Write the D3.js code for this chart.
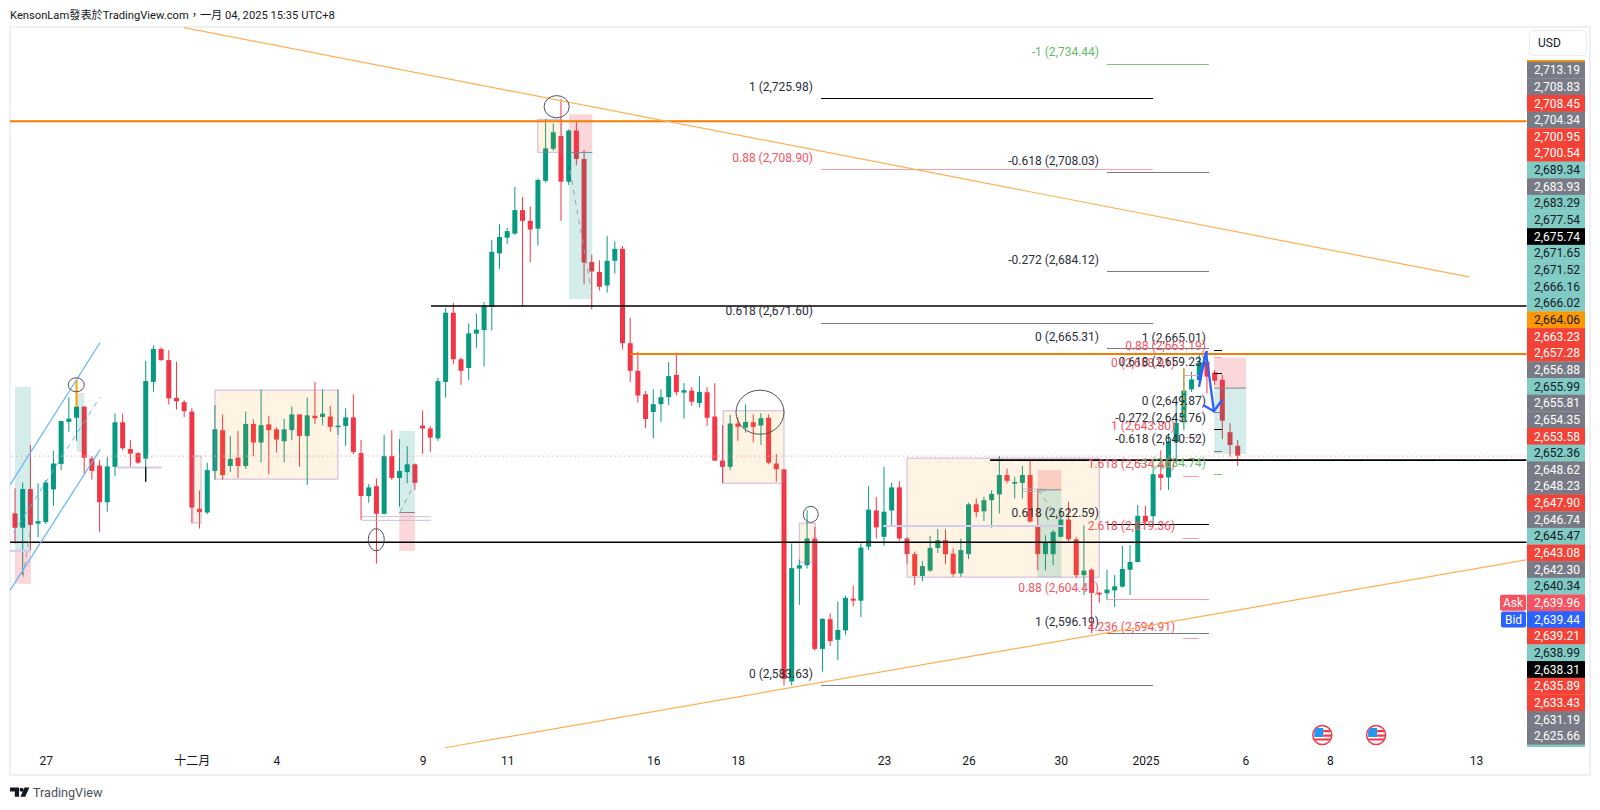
<!DOCTYPE html>
<html><head><meta charset="utf-8">
<script src="https://d3js.org/d3.v7.min.js"></script>
<style>html,body{margin:0;padding:0;background:#fff}svg{display:block}text{font-family:Roboto,"Noto Sans CJK TC",sans-serif}</style>
</head><body><svg id="c" width="1600" height="810"></svg>
<script>
// ---------- candle values, one per bar ----------
const opens=[2625.4,2621.9,2631.3,2622.9,2623.3,2631.2,2637.4,2647.6,2648.6,2651.3,2638.7,2637.0,2628.1,2636.7,2647.5,2641.0,2640.0,2638.7,2657.3,2665.3,2662.6,2653.4,2652.4,2650.1,2626.5,2625.6,2635.7,2645.6,2636.9,2638.9,2636.9,2647.1,2642.6,2647.0,2645.8,2642.9,2645.6,2649.4,2644.2,2649.1,2648.8,2648.9,2646.5,2646.6,2648.7,2640.0,2629.6,2632.0,2625.3,2639.3,2634.0,2635.4,2637.3,2646.7,2646.0,2643.6,2657.3,2674.1,2662.8,2660.7,2669.0,2669.9,2675.6,2688.5,2692.3,2693.3,2699.0,2696.4,2694.5,2706.1,2713.9,2717.0,2705.9,2718.3,2711.4,2686.4,2684.0,2680.7,2686.7,2689.6,2666.7,2660.0,2654.3,2650.0,2651.9,2653.6,2659.0,2654.7,2655.2,2652.2,2654.8,2648.9,2638.2,2636.7,2647.2,2646.2,2647.5,2646.7,2648.6,2637.5,2636.1,2584.6,2612.0,2612.8,2619.3,2592.5,2599.7,2594.7,2597.0,2604.7,2604.2,2617.3,2626.1,2619.7,2626.1,2631.7,2619.3,2615.5,2610.2,2611.5,2617.0,2618.9,2615.6,2610.8,2615.5,2627.6,2625.9,2628.6,2630.0,2634.7,2632.7,2632.8,2634.7,2622.5,2615.5,2615.5,2619.7,2623.9,2619.1,2610.4,2611.7,2606.1,2606.0,2606.7,2607.6,2611.7,2613.6,2624.8,2624.7,2634.9,2634.1,2642.6,2647.5,2655.5,2657.8,2662.2,2659.6,2657.8,2645.1,2641.8];
const highs=[2631.5,2632.9,2642.0,2632.7,2633.5,2640.6,2647.8,2653.5,2657.7,2651.4,2639.3,2638.3,2639.1,2649.6,2649.6,2643.2,2640.3,2662.4,2666.2,2665.7,2665.0,2662.2,2652.9,2650.9,2631.0,2637.7,2651.7,2649.4,2644.1,2645.4,2650.1,2648.2,2655.5,2649.1,2646.3,2648.3,2651.3,2649.4,2653.5,2657.3,2655.5,2651.5,2655.5,2650.9,2654.3,2643.2,2632.5,2633.9,2644.4,2645.6,2643.4,2641.7,2637.5,2650.4,2646.6,2658.3,2675.3,2676.5,2663.2,2671.5,2673.9,2676.7,2691.8,2695.6,2694.7,2704.6,2702.2,2699.9,2706.7,2721.1,2720.0,2725.9,2718.6,2720.5,2713.6,2688.2,2686.8,2692.7,2691.4,2690.3,2672.9,2664.6,2655.1,2655.5,2655.5,2662.1,2664.2,2657.0,2656.1,2658.7,2656.0,2657.0,2646.8,2649.3,2648.7,2651.8,2649.4,2649.7,2649.4,2639.8,2636.1,2618.1,2614.2,2626.2,2622.2,2600.0,2601.1,2604.0,2605.4,2607.8,2618.1,2632.0,2629.4,2636.7,2632.9,2633.2,2619.6,2616.1,2613.8,2619.9,2621.6,2621.5,2616.9,2619.3,2628.0,2629.0,2629.4,2631.0,2639.3,2636.3,2634.3,2636.9,2638.2,2631.4,2620.1,2621.3,2626.8,2628.2,2619.7,2622.5,2612.0,2606.4,2611.7,2610.4,2617.5,2617.7,2627.4,2627.2,2636.3,2640.7,2644.8,2652.1,2660.2,2659.8,2664.2,2664.9,2660.2,2659.0,2647.3,2643.2];
const lows=[2618.1,2610.4,2616.5,2619.6,2622.8,2627.2,2635.9,2645.2,2643.0,2635.1,2633.6,2620.9,2625.8,2634.5,2640.7,2636.5,2637.4,2633.1,2654.9,2662.4,2651.8,2650.6,2648.8,2623.0,2621.7,2625.2,2633.6,2633.5,2635.4,2634.0,2636.2,2639.3,2637.8,2634.9,2640.2,2637.8,2643.2,2636.7,2632.3,2647.1,2646.8,2645.2,2644.4,2641.8,2639.8,2623.8,2628.0,2613.2,2625.1,2633.5,2627.0,2632.7,2631.0,2639.9,2640.3,2643.0,2653.5,2661.6,2656.6,2657.8,2665.6,2661.1,2669.8,2684.7,2690.8,2693.0,2675.6,2686.3,2690.4,2705.7,2713.4,2696.4,2705.1,2709.9,2681.1,2674.9,2679.5,2679.0,2683.6,2665.2,2657.3,2652.3,2646.1,2643.6,2647.6,2651.7,2654.0,2648.4,2651.5,2651.1,2646.6,2638.1,2632.7,2635.9,2643.0,2645.0,2642.6,2642.0,2637.3,2633.1,2583.6,2583.6,2603.2,2612.0,2592.1,2587.0,2593.2,2589.8,2595.9,2602.8,2600.2,2616.5,2619.3,2617.5,2622.3,2618.7,2613.2,2608.0,2609.0,2611.2,2615.8,2613.1,2610.0,2610.0,2614.3,2624.4,2623.5,2621.9,2625.4,2632.7,2629.0,2629.0,2623.2,2611.6,2611.6,2612.8,2619.6,2618.5,2609.6,2605.6,2596.3,2603.7,2604.3,2602.7,2607.4,2605.6,2613.5,2622.5,2622.1,2631.0,2631.1,2637.9,2645.6,2654.9,2657.0,2654.5,2656.6,2643.4,2639.2,2636.9];
const closes=[2621.9,2631.3,2622.6,2623.5,2632.9,2637.5,2647.8,2648.4,2651.3,2638.9,2635.7,2628.1,2636.8,2647.5,2641.2,2639.9,2637.7,2657.5,2665.3,2662.6,2653.3,2652.6,2650.2,2626.8,2625.7,2635.9,2645.8,2634.7,2638.6,2636.9,2647.1,2642.6,2646.8,2645.6,2643.3,2645.8,2649.4,2644.2,2649.2,2648.5,2649.6,2646.4,2646.7,2648.7,2640.3,2629.6,2631.7,2625.3,2639.3,2634.0,2635.7,2637.3,2632.8,2646.0,2643.8,2657.5,2674.1,2662.8,2660.0,2669.1,2670.0,2675.8,2688.9,2692.5,2693.9,2699.0,2696.4,2694.3,2706.3,2714.0,2717.9,2705.9,2718.3,2711.4,2686.3,2684.1,2680.4,2686.7,2689.6,2666.7,2660.0,2654.0,2648.3,2651.9,2653.6,2658.7,2654.8,2655.3,2652.5,2654.9,2648.6,2638.2,2636.7,2647.2,2646.4,2647.6,2646.4,2648.5,2637.7,2636.1,2585.2,2612.1,2612.8,2619.3,2592.5,2599.8,2594.4,2597.1,2604.9,2604.2,2617.1,2626.3,2622.0,2625.8,2631.7,2619.3,2615.5,2610.2,2612.6,2617.0,2618.9,2615.5,2610.7,2616.5,2627.6,2625.7,2628.6,2630.1,2634.7,2633.3,2633.0,2634.7,2623.4,2615.5,2618.3,2620.9,2623.9,2619.1,2610.4,2611.5,2606.1,2605.9,2606.9,2607.7,2611.9,2613.6,2624.8,2623.4,2634.9,2634.0,2642.8,2647.4,2655.2,2657.9,2662.0,2658.6,2657.6,2647.9,2642.0,2639.4];
// ---------- axis labels ----------
const timeTickBars=[4,23,34,53,64,83,94,113,124,136,147,160,171,190];
const timeTickLabels=["27","十二月","4","9","11","16","18","23","26","30","2025","6","8","13"];
const priceLabels=["2,713.19","2,708.83","2,708.45","2,704.34","2,700.95","2,700.54","2,689.34","2,683.93","2,683.29","2,677.54","2,675.74","2,671.65","2,671.52","2,666.16","2,666.02","2,664.06","2,663.23","2,657.28","2,656.88","2,655.99","2,655.81","2,654.35","2,653.58","2,652.36","2,648.62","2,648.23","2,647.90","2,646.74","2,645.47","2,643.08","2,642.30","2,640.34","2,639.96","2,639.44","2,639.21","2,638.99","2,638.31","2,635.89","2,633.43","2,631.19","2,625.66"];
const priceLabelKinds=["g","g","r","g","r","r","t","g","t","t","k","t","t","t","t","o","r","r","g","t","g","g","r","t","g","g","r","g","t","r","g","t","a","b","r","t","k","r","r","g","g"];
// ---------- fibonacci levels: [group, label, price, tone] ----------
const fibLevels=[
["A","1 (2,725.98)",2725.98,"black"],["A","0.88 (2,708.90)",2708.90,"red"],["A","0.618 (2,671.60)",2671.60,"grey"],["A","0 (2,583.63)",2583.63,"grey"],
["B","-1 (2,734.44)",2734.44,"green"],["B","-0.618 (2,708.03)",2708.03,"grey"],["B","-0.272 (2,684.12)",2684.12,"grey"],["B","0 (2,665.31)",2665.31,"grey"],["B","0.618 (2,622.59)",2622.59,"black"],["B","0.88 (2,604.41)",2604.41,"red"],["B","1 (2,596.19)",2596.19,"grey"],
["C","0 (2,658.91)",2658.91,"red"],["C","1 (2,643.80)",2643.80,"red"],["C","1.618 (2,634.46)",2634.46,"red"],["C","2.618 (2,619.36)",2619.36,"red"],["C","4.236 (2,594.91)",2594.91,"red"],
["D","1 (2,665.01)",2665.01,"black"],["D","0.88 (2,663.19)",2663.19,"red"],["D","0.618 (2,659.23)",2659.23,"black"],["D","0 (2,649.87)",2649.87,"grey"],["D","-0.272 (2,645.76)",2645.76,"black"],["D","-0.618 (2,640.52)",2640.52,"grey"],["D","-1 (2,634.74)",2634.74,"green"]];
const fibSpans={A:[104.8,148],B:[142,155.3],C:[151.9,154],D:[155.9,157]};
// ---------- shaded zones: [bar0, bar1, priceTop, priceBottom, kind] ----------
const zones=[
[26,42,2655.3,2633.7,"y"],[23.15,24.2,2639.3,2623.1,"y"],[67.97,71.1,2721,2713,"y"],[92.1,100,2650.3,2632.7,"y"],[102,104.1,2623,2613.5,"y"],[116,141,2638.8,2609.9,"y"],
[0,2.08,2656.1,2616.3,"t"],[0,2.08,2616.3,2608.3,"r"],[8.02,9.01,2654.1,2640.3,"t"],[8.02,9.01,2654.6,2654.1,"r"],[49.97,52,2645.4,2625.6,"t"],[49.97,52,2625.6,2616.3,"r"],
[72.04,75.07,2722.3,2713,"r"],[72.04,75.07,2713,2677.4,"t"],[133,136.06,2635.9,2631.1,"r"],[133,136.06,2631.1,2609.9,"t"],[155.95,160.1,2663.2,2655.8,"r"],[155.95,160.1,2655.8,2639.8,"t"]];
// ---------- ellipses: [bar0, bar1, priceTop, priceBottom] ----------
const ellipses=[[6.93,9.01,2658.3,2654.9],[45.94,48.02,2621.7,2616.3],[68.8,72.07,2726.8,2721.4],[93.76,100,2655.3,2644.6],[102.5,104.45,2627.1,2623.2]];
// ---------- horizontal levels: [bar0, bar1, price, kind] ----------
const levels=[
[-1,197,2720.6,"orange"],[80,197,2664.06,"orange"],[54.1,197,2675.74,"black"],[-1,197,2618.4,"black"],[126.8,197,2638.31,"black"],[-1,197,2639.3,"dot"],
[13.2,19.1,2636.5,"purple"],[-0.65,2.08,2616.3,"purple"],[45.1,54.1,2624.6,"pale"],[45.1,54.1,2623.7,"pale"],[112.9,136.5,2622.3,"purple"],[131,134,2631.3,"pale"],[131,134,2630.7,"pale"],[49.97,52,2625.6,"slate"],[72.04,75.07,2713,"slate"],[133,136.06,2631.1,"slate"],[155.95,160.1,2655.8,"slate"]];
// ---------- trend lines: [[bar,price],...,kind] ----------
const trends=[
{k:"orange",p:[[21.98,2743.3],[189.07,2682.8]]},{k:"orange",p:[[55.9,2568.5],[196.5,2614.1]]},
{k:"blue",p:[[-0.65,2632.3],[11.05,2666.8]]},{k:"blue",p:[[-0.65,2606.7],[11.05,2640.8]]},{k:"bluedash",p:[[-0.22,2620.6],[11.05,2653.6]]},
{k:"greydash",p:[[1.04,2610],[2.08,2622.1]]},{k:"greydash",p:[[50.06,2625.7],[52,2632.8]]},{k:"greydash",p:[[72.17,2708.7],[75,2678.9]]},{k:"greydash",p:[[133.03,2631.1],[135.9,2623.8]]},
{k:"wedge",p:[[153.97,2656.1],[154.87,2664.6],[155.91,2650.2]]},{k:"wedge",p:[[153.9,2657.8],[155,2664.8]]},{k:"wedge",p:[[154.49,2651.7],[155.91,2650.2],[156.96,2652.9]]},
{k:"wickOrange",p:[[8,2657.7],[8,2651.3]]},{k:"wickBlack",p:[[17,2636.7],[17,2633.1]]},{k:"orangedash",p:[[152,2660.7],[152,2647.6]]}];
const eventBars=[170,177];

const svg=d3.select("#c");
const x=d3.scaleLinear().domain([0,1]).range([15,22.69]);
const y=d3.scaleLinear().domain([2750,2583.63]).range([0,685.44]);
const up="#089981",down="#f23645";

svg.append("defs").append("clipPath").attr("id","plot").append("rect").attr("x",10).attr("y",27).attr("width",1516.5).attr("height",747);
const defs=svg.select("defs");
eventBars.forEach((b,i)=>defs.append("clipPath").attr("id","ev"+i).append("circle").attr("cx",x(b)).attr("cy",735).attr("r",9));

svg.append("rect").attr("x",10).attr("y",27).attr("width",1580).attr("height",748).attr("fill","#fff").attr("stroke","#eef0f6").attr("stroke-width",2);
svg.append("text").attr("x",10).attr("y",18.5).attr("font-size",11.2).attr("fill","#131722").text("KensonLam發表於TradingView.com，一月 04, 2025 15:35 UTC+8");

const plot=svg.append("g").attr("clip-path","url(#plot)");
const bars=opens.map((o,i)=>({i,o,h:highs[i],l:lows[i],c:closes[i]}));
const gc=plot.append("g");
gc.selectAll("line").data(bars).join("line").attr("x1",d=>x(d.i)).attr("x2",d=>x(d.i)).attr("y1",d=>y(d.h)).attr("y2",d=>y(d.l)).attr("stroke",d=>d.c>=d.o?up:down).attr("stroke-width",1);
gc.selectAll("rect").data(bars).join("rect").attr("x",d=>x(d.i)-2.5).attr("width",5)
 .attr("y",d=>y(Math.max(d.o,d.c))).attr("height",d=>Math.max(1.6,Math.abs(y(d.o)-y(d.c)))).attr("fill",d=>d.c>=d.o?up:down);

const zoneFill={y:"rgba(255,152,0,0.11)",t:"rgba(0,150,136,0.17)",r:"rgba(242,54,69,0.2)"};
plot.append("g").selectAll("rect").data(zones).join("rect")
 .attr("x",d=>x(d[0])).attr("width",d=>x(d[1])-x(d[0])).attr("y",d=>y(d[2])).attr("height",d=>y(d[3])-y(d[2]))
 .attr("fill",d=>zoneFill[d[4]]).attr("stroke",d=>d[4]==="y"?"rgba(149,117,205,0.42)":"none").attr("stroke-width",1.2);

const lvlStyle={orange:["#f57c00",2,null],black:["#000",1.6,null],dot:["#f7a6ab",1,"1.5 3"],purple:["#d3cbec",2,null],pale:["#b9b3cc",0.8,null],slate:["#7c8794",1,null]};
plot.append("g").selectAll("line").data(levels).join("line")
 .attr("x1",d=>x(d[0])).attr("x2",d=>x(d[1])).attr("y1",d=>y(d[2])).attr("y2",d=>y(d[2]))
 .attr("stroke",d=>lvlStyle[d[3]][0]).attr("stroke-width",d=>lvlStyle[d[3]][1]).attr("stroke-dasharray",d=>lvlStyle[d[3]][2]);

const fibLine={black:"#000",red:"#f7a0a6",grey:"#787b86",green:"#81c784"};
const fibText={black:"#2a2e39",red:"#f7525f",grey:"#2a2e39",green:"#66bb6a"};
const gf=plot.append("g");
gf.selectAll("line").data(fibLevels).join("line").attr("x1",d=>x(fibSpans[d[0]][0])).attr("x2",d=>x(fibSpans[d[0]][1])).attr("y1",d=>y(d[2])).attr("y2",d=>y(d[2]))
 .attr("stroke",d=>fibLine[d[3]]).attr("stroke-width",1).attr("shape-rendering","crispEdges");

const trStyle={orange:["#ffb056",1.2,null],blue:["#64b5f6",1.2,null],bluedash:["#64b5f6",1,"5 5"],greydash:["#9aa0a8",1,"5 5"],wedge:["#2962ff",2.3,null],wickOrange:["#f5a300",2,null],wickBlack:["#000",1.2,null],orangedash:["#ff9800",1.5,"4 3"]};
const ln=d3.line().x(d=>x(d[0])).y(d=>y(d[1]));
plot.append("g").selectAll("path").data(trends).join("path").attr("d",d=>ln(d.p)).attr("fill","none")
 .attr("stroke",d=>trStyle[d.k][0]).attr("stroke-width",d=>trStyle[d.k][1]).attr("stroke-dasharray",d=>trStyle[d.k][2]);

plot.append("g").selectAll("ellipse").data(ellipses).join("ellipse")
 .attr("cx",d=>(x(d[0])+x(d[1]))/2).attr("cy",d=>(y(d[2])+y(d[3]))/2).attr("rx",d=>(x(d[1])-x(d[0]))/2).attr("ry",d=>(y(d[3])-y(d[2]))/2)
 .attr("fill","none").attr("stroke","#4e515b").attr("stroke-width",1);

gf.selectAll("text").data(fibLevels).join("text").attr("x",d=>x(fibSpans[d[0]][0])-8).attr("y",d=>y(d[2])-12).attr("dy","0.35em")
 .attr("text-anchor","end").attr("font-size",12).attr("fill",d=>fibText[d[3]]).text(d=>d[1]);

// event icons
eventBars.forEach((b,i)=>{
 const g=svg.append("g"),cx=x(b),cy=735;
 g.append("circle").attr("cx",cx).attr("cy",cy).attr("r",9.5).attr("fill","#fff").attr("stroke","#f23645").attr("stroke-width",1.5);
 const f=g.append("g").attr("clip-path",`url(#ev${i})`);
 f.append("rect").attr("x",cx-8).attr("y",cy-7).attr("width",9).attr("height",9).attr("fill","#2196f3");
 f.append("rect").attr("x",cx+1).attr("y",cy-5).attr("width",8).attr("height",2.2).attr("fill","#f23645");
 f.append("rect").attr("x",cx+1).attr("y",cy-0.5).attr("width",8).attr("height",2.2).attr("fill","#f23645");
 f.append("rect").attr("x",cx-9).attr("y",cy+3.5).attr("width",18).attr("height",2).attr("fill","#f23645");
});

// time axis
const ax=svg.append("g").attr("transform","translate(0,755)").call(d3.axisBottom(x).tickValues(timeTickBars).tickSize(0).tickFormat((d,i)=>timeTickLabels[i]));
ax.select(".domain").remove();
ax.selectAll("text").attr("font-size",12).attr("fill","#131722").attr("font-family",'Roboto,"Noto Sans CJK TC",sans-serif').attr("y",0).attr("dy","0.85em");

// price axis
const rowY=d3.scalePoint().domain(d3.range(priceLabels.length)).range([70,736]);
const rowH=rowY.step();
const kindFill={g:"#787b86",r:"#f44336",t:"#80cbc4",k:"#000",o:"#ff9800",a:"#f7525f",b:"#2962ff"};
const kindText={g:"#fff",r:"#fff",t:"#131722",k:"#fff",o:"#131722",a:"#fff",b:"#fff"};
const gp=svg.append("g");
gp.append("rect").attr("x",1527).attr("width",58).attr("y",60).attr("height",2.6).attr("fill","#ff9800");
gp.append("rect").attr("x",1527).attr("width",58).attr("y",744).attr("height",3).attr("fill","#80cbc4");
gp.selectAll("rect.row").data(priceLabels).join("rect").attr("class","row").attr("x",1527).attr("width",58).attr("y",(d,i)=>rowY(i)-rowH/2).attr("height",rowH+0.3).attr("fill",(d,i)=>kindFill[priceLabelKinds[i]]);
gp.selectAll("text").data(priceLabels).join("text").attr("x",1557).attr("y",(d,i)=>rowY(i)).attr("dy","0.35em").attr("text-anchor","middle").attr("font-size",12).attr("fill",(d,i)=>kindText[priceLabelKinds[i]]).text(d=>d);

// Ask / Bid tags and USD box
const tags=[["Ask",32,"#f7525f",1500],["Bid",33,"#2962ff",1501]];
tags.forEach(t=>{
 svg.append("rect").attr("x",t[3]).attr("y",rowY(t[1])-rowH/2+0.3).attr("width",1526-t[3]).attr("height",rowH-0.6).attr("rx",2).attr("fill",t[2]);
 svg.append("text").attr("x",(t[3]+1526)/2).attr("y",rowY(t[1])).attr("dy","0.35em").attr("text-anchor","middle").attr("font-size",12).attr("fill","#fff").text(t[0]);
});
svg.append("rect").attr("x",1529.5).attr("y",30.5).attr("width",57).attr("height",25).attr("rx",4).attr("fill","#fff").attr("stroke","#e9ebf2");
svg.append("text").attr("x",1538).attr("y",43).attr("dy","0.35em").attr("font-size",12).attr("fill","#131722").text("USD");

// footer logo
const logo=svg.append("g").attr("fill","#131722");
logo.append("path").attr("d","M10 787.5H19V796.7H14.8V791.5H10Z");
logo.append("circle").attr("cx",21.5).attr("cy",789.7).attr("r",2);
logo.append("path").attr("d","M24.5 787.5H29.4L25.2 796.7H20.4Z");
svg.append("text").attr("x",33).attr("y",793).attr("dy","0.35em").attr("font-size",12.6).attr("fill","#4a4e59").text("TradingView");
</script></body></html>
